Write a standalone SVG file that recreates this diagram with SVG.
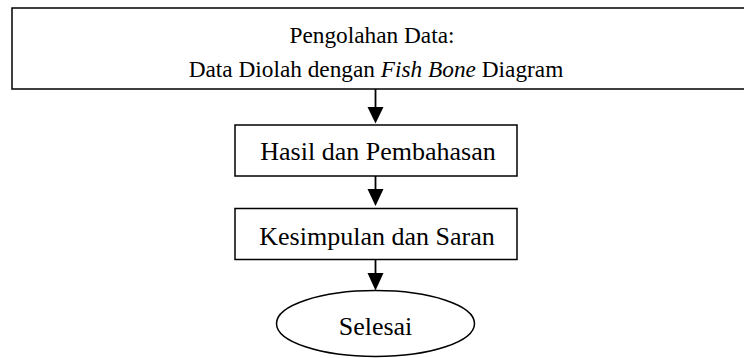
<svg xmlns="http://www.w3.org/2000/svg" width="744" height="358" viewBox="0 0 744 358">
<style>
  .box{fill:#fff;stroke:#000;stroke-width:1.5}
  .t{font-family:"Liberation Serif","Times New Roman",serif;fill:#000;text-anchor:middle}
  .ln{stroke:#000;stroke-width:1.8;fill:none}
  .ah{fill:#000}
</style>
<rect width="744" height="358" fill="#fff"/>
<g id="n1">
  <rect class="box" x="12" y="8" width="740" height="81"/>
  <text class="t" x="372" y="43" font-size="23.3">Pengolahan Data:</text>
  <text class="t" x="376" y="77" font-size="23.3">Data Diolah dengan <tspan font-style="italic">Fish Bone</tspan> Diagram</text>
</g>
<g id="n2">
  <rect class="box" x="235" y="125" width="282" height="51"/>
  <text class="t" x="378" y="160" font-size="26">Hasil dan Pembahasan</text>
</g>
<g id="n3">
  <rect class="box" x="235" y="208.5" width="282" height="51"/>
  <text class="t" x="377" y="245" font-size="26">Kesimpulan dan Saran</text>
</g>
<g id="n4">
  <ellipse class="box" cx="375.5" cy="323.5" rx="99" ry="33"/>
  <text class="t" x="375.5" y="335" font-size="26">Selesai</text>
</g>
<g id="connectors">
  <line class="ln" x1="375.5" y1="89" x2="375.5" y2="110"/>
  <polygon class="ah" points="367.5,107 383.5,107 375.5,123.5"/>
  <line class="ln" x1="375.5" y1="176" x2="375.5" y2="192"/>
  <polygon class="ah" points="367.5,189 383.5,189 375.5,206"/>
  <line class="ln" x1="375.5" y1="259.5" x2="375.5" y2="276"/>
  <polygon class="ah" points="367.5,273 383.5,273 375.5,290.5"/>
</g>
</svg>
